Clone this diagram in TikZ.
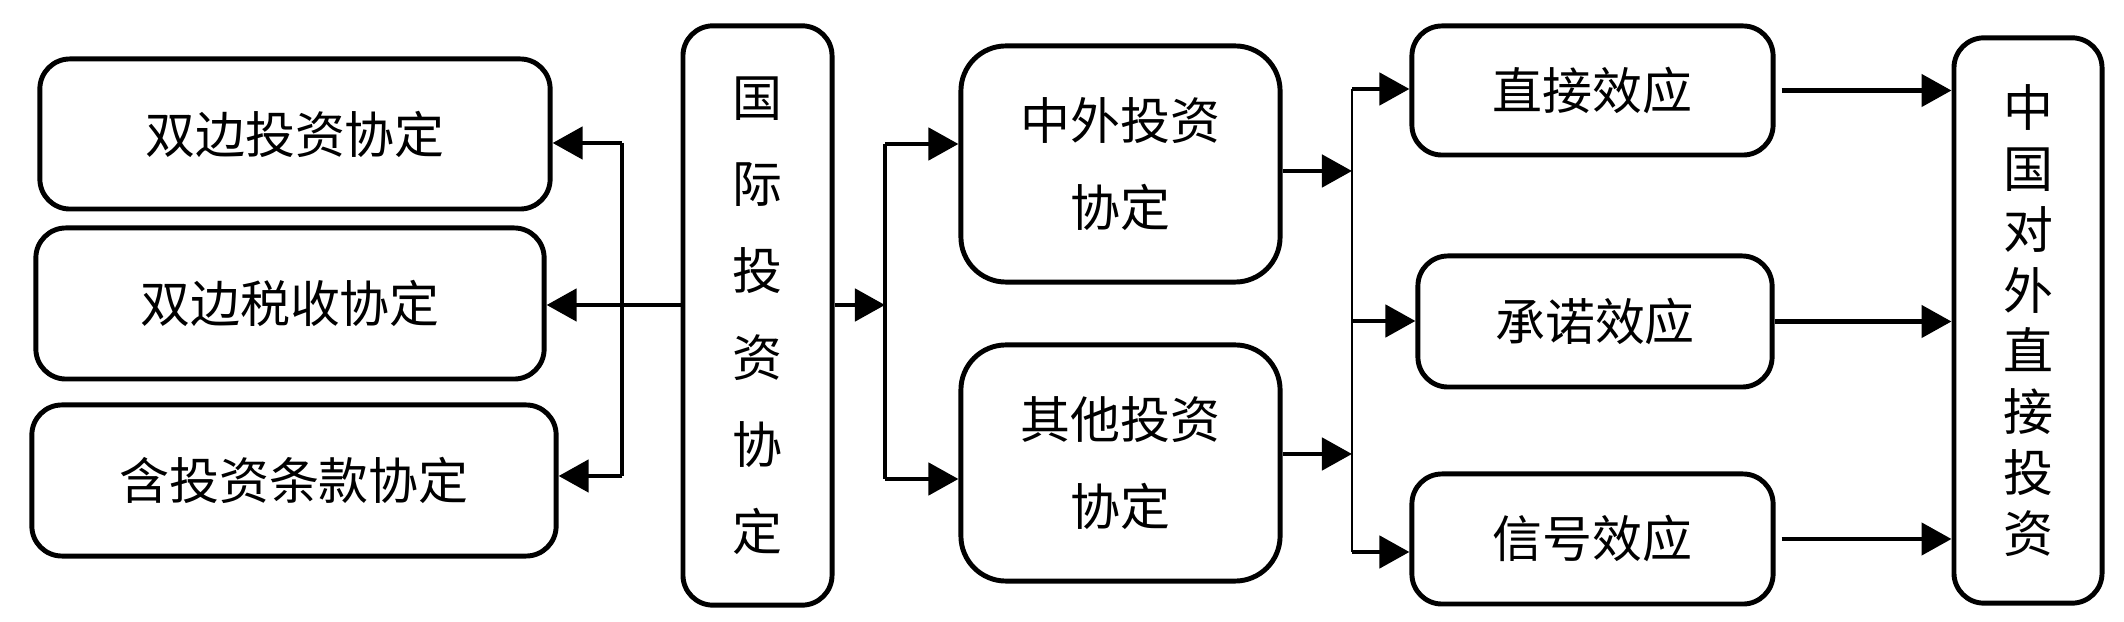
\documentclass[tikz,border=0pt]{standalone}
\usepackage{fontspec}
\newfontfamily\cjk{Noto Sans CJK SC}
\usetikzlibrary{arrows.meta}

\begin{document}
\begin{tikzpicture}[x=0.01cm, y=-0.01cm]
  \useasboundingbox (0,0) rectangle (2124,622);
  \begin{scope}[every node/.style={draw=black, line width=1.4pt, rounded corners=0.3cm, align=center, inner sep=0pt, font=\cjk\fontsize{14.2}{24.7}\selectfont}]
    \node[minimum width=5.1cm, minimum height=1.5cm] (bit) at (295,134) {双边投资协定};
    \node[minimum width=5.08cm, minimum height=1.51cm] (dtt) at (290,303.5) {双边税收协定};
    \node[minimum width=5.24cm, minimum height=1.51cm] (tip) at (294,480.5) {含投资条款协定};
    \node[minimum width=1.49cm, minimum height=5.79cm] (iia) at (757.5,315.5) {国\\际\\投\\资\\协\\定};
    \node[minimum width=3.19cm, minimum height=2.36cm, rounded corners=0.45cm] (cn) at (1120.5,164) {中外投资\\协定};
    \node[minimum width=3.19cm, minimum height=2.36cm, rounded corners=0.45cm] (other) at (1120.5,463) {其他投资\\协定};
    \node[minimum width=3.61cm, minimum height=1.29cm] (direct) at (1592.5,90.5) {直接效应};
    \node[minimum width=3.54cm, minimum height=1.31cm] (commit) at (1595,321.5) {承诺效应};
    \node[minimum width=3.61cm, minimum height=1.3cm] (signal) at (1592.5,539) {信号效应};
    \node[minimum width=1.48cm, minimum height=5.65cm, font=\cjk\fontsize{14.2}{17.3}\selectfont] (ofdi) at (2028,320.5) {中\\国\\对\\外\\直\\接\\投\\资};
  \end{scope}
  % branch points
  \coordinate (lb1) at (622,143);
  \coordinate (lb2) at (622,305);
  \coordinate (lb3) at (622,476);
  \coordinate (rb1) at (885,144);
  \coordinate (rb2) at (885,305);
  \coordinate (rb3) at (885,479);
  \coordinate (eb1) at (1352,89);
  \coordinate (eb2) at (1352,321);
  \coordinate (eb3) at (1352,552);
  \coordinate (eb4) at (1352,171);
  \coordinate (eb5) at (1352,454);
  \draw[line width=0.9pt] (lb1) -- (lb3);
  \draw[line width=1pt] (rb1) -- (rb3);
  \draw[line width=0.6pt] (eb1) -- (eb3);
  \begin{scope}[every edge/.style={draw=black, line width=1.35pt, -{Triangle[length=0.3cm, width=0.32cm]}}]
    \path (iia.west |- lb2) edge (dtt.east |- lb2);
    \path (lb1) edge (bit.east |- lb1);
    \path (lb3) edge (tip.east |- lb3);
    \path (iia.east |- rb2) edge (rb2);
    \path (rb1) edge (cn.west |- rb1);
    \path (rb3) edge (other.west |- rb3);
    \path (cn.east |- eb4) edge (eb4);
    \path (other.east |- eb5) edge (eb5);
    \path (eb1) edge (direct.west |- eb1);
    \path (eb2) edge (commit.west |- eb2);
    \path (eb3) edge (signal.west |- eb3);
    \path (direct.east) edge[shorten <=0.06cm] (ofdi.west |- direct.east);
    \path (commit.east) edge (ofdi.west |- commit.east);
    \path (signal.east) edge[shorten <=0.06cm] (ofdi.west |- signal.east);
  \end{scope}
\end{tikzpicture}
\end{document}
